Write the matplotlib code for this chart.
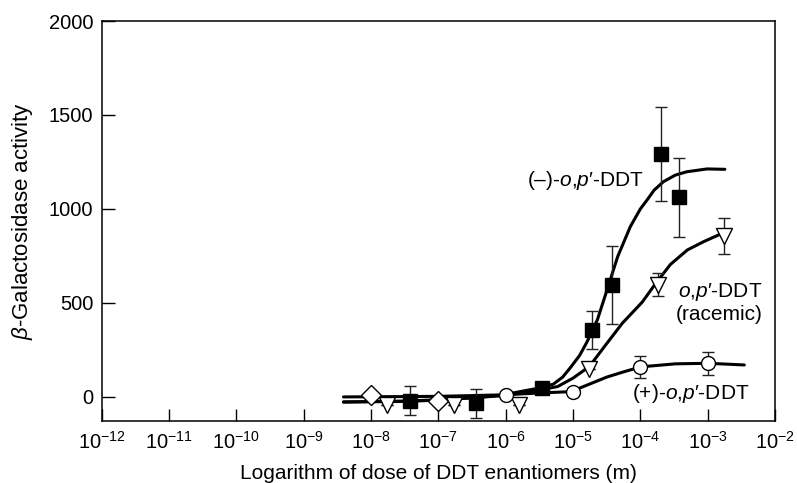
import matplotlib
matplotlib.use("Agg")
import matplotlib.pyplot as plt
from matplotlib.ticker import FixedLocator, LogFormatterSciNotation, NullLocator

plt.rcParams['font.family'] = ['Liberation Sans', 'DejaVu Sans']
plt.rcParams['mathtext.fontset'] = 'custom'
plt.rcParams['mathtext.rm'] = 'Liberation Sans'
plt.rcParams['mathtext.it'] = 'Liberation Sans:italic'
plt.rcParams['mathtext.default'] = 'regular'

# ---- data ----
# (-)-o,p'-DDT : filled squares
neg_x = [3.8e-8, 3.6e-7, 3.5e-6, 1.9e-5, 3.8e-5, 2.0e-4, 3.8e-4]
neg_y = [-20, -34, 46, 356, 596, 1290, 1063]
neg_err = [76, 77, 0, 100, 207, 250, 210]

# racemic o,p'-DDT : open down triangles
rac_x = [1.7e-8, 1.7e-7, 1.6e-6, 1.7e-5, 1.8e-4, 1.75e-3]
rac_y = [-44, -44, -44, 150, 598, 858]
rac_err = [0, 0, 0, 0, 60, 95]

# (+)-o,p'-DDT : open circles
pos_x = [1.0e-6, 1.0e-5, 1.0e-4, 1.0e-3]
pos_y = [11, 28, 158, 179]
pos_err = [0, 0, 58, 60]

# control : open diamonds
ctl_x = [1.0e-8, 1.0e-7]
ctl_y = [8, -20]

# fitted curves
neg_cx = [3.9e-9, 3.2e-8, 1e-7, 3.2e-7, 8.3e-7, 3.2e-6, 5.1e-6, 7.0e-6, 9.1e-6, 1.25e-5, 1.6e-5,
          2.3e-5, 3.2e-5, 4.6e-5, 7.1e-5, 1.0e-4, 1.26e-4, 1.6e-4, 2.2e-4, 3.3e-4, 4.9e-4, 9.8e-4, 1.8e-3]
neg_cy = [-27, -22, -15, -4, 8, 48, 68, 105, 155, 220, 290,
          410, 569, 746, 906, 1000, 1048, 1100, 1145, 1180, 1198, 1213, 1211]

rac_cx = [3.9e-9, 3.2e-8, 1e-7, 3.2e-7, 8.3e-7, 2.3e-6, 5.9e-6, 1.0e-5, 1.74e-5, 3.2e-5,
          5.4e-5, 1.07e-4, 1.66e-4, 2.8e-4, 5.0e-4, 8.7e-4, 1.66e-3]
rac_cy = [-27, -24, -17, -5, 6, 27, 55, 100, 161, 286,
          392, 505, 600, 705, 782, 826, 871]

pos_cx = [3.9e-9, 1e-7, 9.1e-7, 3.2e-6, 9.3e-6, 1.78e-5, 3.2e-5, 5.6e-5, 1.02e-4, 3.3e-4, 1.02e-3, 3.5e-3]
pos_cy = [0, 3, 11, 21, 28, 69, 106, 133, 160, 176, 179, 170]

xticks = [1e-12, 1e-11, 1e-10, 1e-9, 1e-8, 1e-7, 1e-6, 1e-5, 1e-4, 1e-3, 1e-2]
yticks = [0, 500, 1000, 1500, 2000]

# ---- figure ----
fig = plt.figure(figsize=(7.97, 4.83), dpi=100)
ax = fig.add_axes([0.1276, 0.1284, 0.8448, 0.8281])

lw = 2.2
ax.plot(neg_cx, neg_cy, color='black', lw=lw, zorder=2, solid_capstyle='round', solid_joinstyle='round')
ax.plot(rac_cx, rac_cy, color='black', lw=lw, zorder=2, solid_capstyle='round', solid_joinstyle='round')
ax.plot(pos_cx, pos_cy, color='black', lw=lw, zorder=2, solid_capstyle='round', solid_joinstyle='round')

ekw = dict(ecolor='#222222', elinewidth=1.0, capsize=4, capthick=1.0, ls='none')
ax.errorbar(neg_x, neg_y, yerr=neg_err, marker='s', ms=10.5, mfc='black', mec='black', zorder=4, **ekw)
ax.errorbar(rac_x, rac_y, yerr=rac_err, marker='v', ms=11, mfc='white', mec='black', mew=1.0, zorder=4, **ekw)
ax.errorbar(pos_x, pos_y, yerr=pos_err, marker='o', ms=10, mfc='white', mec='black', mew=1.0, zorder=4, **ekw)
ax.plot(ctl_x, ctl_y, ls='none', marker='D', ms=10, mfc='white', mec='black', mew=1.0, zorder=4)

ax.set_xscale('log')
ax.set_xlim(1e-12, 1e-2)
ax.set_ylim(-128, 2000)
ax.xaxis.set_major_locator(FixedLocator(xticks))
ax.xaxis.set_minor_locator(NullLocator())
ax.xaxis.set_major_formatter(LogFormatterSciNotation())
ax.yaxis.set_major_locator(FixedLocator(yticks))

ax.tick_params(axis='both', direction='in', length=9, width=1.0, labelsize=14.5, colors='black')
ax.tick_params(axis='x', pad=7)
ax.tick_params(axis='y', pad=6)
for s in ax.spines.values():
    s.set_linewidth(1.1)

ax.set_xlabel('Logarithm of dose of DDT enantiomers (m)', fontsize=15, labelpad=8)
ax.set_ylabel(r'$\mathit{\beta}$-Galactosidase activity', fontsize=16, labelpad=10)

tfs = 15
ax.text(10**-5.69, 1154, r'(–)-$\mathit{o}$,$\mathit{p}$′-DDT', fontsize=tfs, ha='left', va='center', zorder=5)
ax.text(10**-2.19, 560, r'$\mathit{o}$,$\mathit{p}$′-DDT', fontsize=tfs, ha='right', va='center', zorder=5)
ax.text(10**-2.19, 436, '(racemic)', fontsize=tfs, ha='right', va='center', zorder=5)
ax.text(10**-2.38, 20, r'(+)-$\mathit{o}$,$\mathit{p}$′-DDT', fontsize=tfs, ha='right', va='center', zorder=5)

fig.savefig('out.png', dpi=100)
